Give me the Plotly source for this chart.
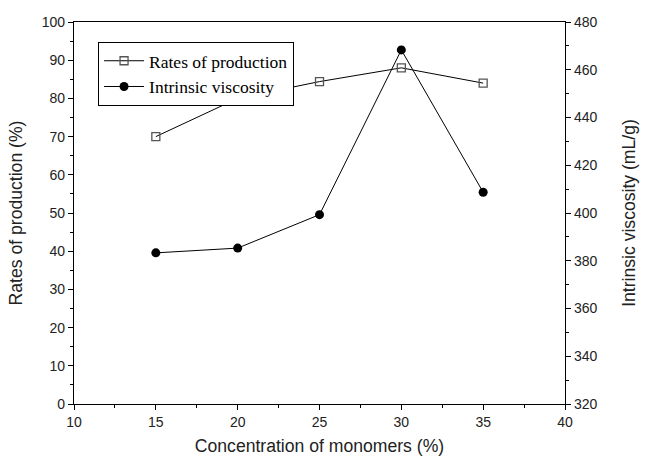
import plotly.graph_objects as go

# Monomer concentration (%) and the two measured responses
concentration = [15, 20, 25, 30, 35]
production_rate = [70.0, 80.0, 84.4, 88.0, 84.0]
intrinsic_viscosity = [383.3, 385.3, 399.3, 468.3, 408.7]

x_ticks = [10, 15, 20, 25, 30, 35, 40]
y_ticks = list(range(0, 101, 10))
y2_ticks = list(range(320, 481, 20))

fig = go.Figure()

fig.add_trace(go.Scatter(
    x=concentration, y=production_rate, name="Rates of production",
    mode="lines+markers",
    line=dict(color="black", width=1),
    marker=dict(symbol="square-open", size=8, color="#555555", line=dict(width=1.3)),
    yaxis="y",
))

fig.add_trace(go.Scatter(
    x=concentration, y=intrinsic_viscosity, name="Intrinsic viscosity",
    mode="lines+markers",
    line=dict(color="black", width=1),
    marker=dict(symbol="circle", size=9, color="black"),
    yaxis="y2",
))

tick_font = dict(family="Liberation Sans, Arial, sans-serif", size=14, color="#222222")
title_font = dict(family="Liberation Sans, Arial, sans-serif", size=17.6, color="#222222")

fig.update_layout(
    width=645, height=457,
    margin=dict(l=74, r=80, t=22, b=53),
    plot_bgcolor="white", paper_bgcolor="white",
    showlegend=True,
    legend=dict(
        x=0.049, y=0.948, xanchor="left", yanchor="top",
        bgcolor="white", bordercolor="black", borderwidth=1,
        font=dict(family="Liberation Serif, Times New Roman, serif", size=17.5, color="black"),
        tracegroupgap=0, itemwidth=40,
    ),
    xaxis=dict(
        range=[10, 40], tickvals=x_ticks, ticktext=[str(v) for v in x_ticks],
        showgrid=False, zeroline=False, automargin=False,
        showline=True, linecolor="black", linewidth=1.2, mirror=True,
        ticks="outside", ticklen=5, tickwidth=1, tickcolor="black",
        minor=dict(ticks="outside", ticklen=3, dtick=2.5, tick0=10, tickcolor="black"),
        tickfont=tick_font,
        title=dict(text="Concentration of monomers (%)", font=title_font, standoff=10),
    ),
    yaxis=dict(
        range=[0, 100], tickvals=y_ticks, ticktext=[str(v) for v in y_ticks],
        showgrid=False, zeroline=False, automargin=False,
        showline=True, linecolor="black", linewidth=1.2, mirror=True,
        ticks="outside", ticklen=5, tickwidth=1, tickcolor="black",
        minor=dict(ticks="outside", ticklen=3, dtick=5, tick0=0, tickcolor="black"),
        tickfont=tick_font,
        title=dict(text="Rates of production (%)", font=title_font, standoff=14),
    ),
    yaxis2=dict(
        range=[320, 480], tickvals=y2_ticks, ticktext=[str(v) for v in y2_ticks],
        overlaying="y", side="right", automargin=False,
        showgrid=False, zeroline=False,
        showline=True, linecolor="black", linewidth=1.2,
        ticks="outside", ticklen=5, tickwidth=1, tickcolor="black",
        minor=dict(ticks="outside", ticklen=3, dtick=10, tick0=320, tickcolor="black"),
        tickfont=tick_font,
        title=dict(text="Intrinsic viscosity (mL/g)", font=title_font, standoff=26),
    ),
)

fig.write_html("out.html")
